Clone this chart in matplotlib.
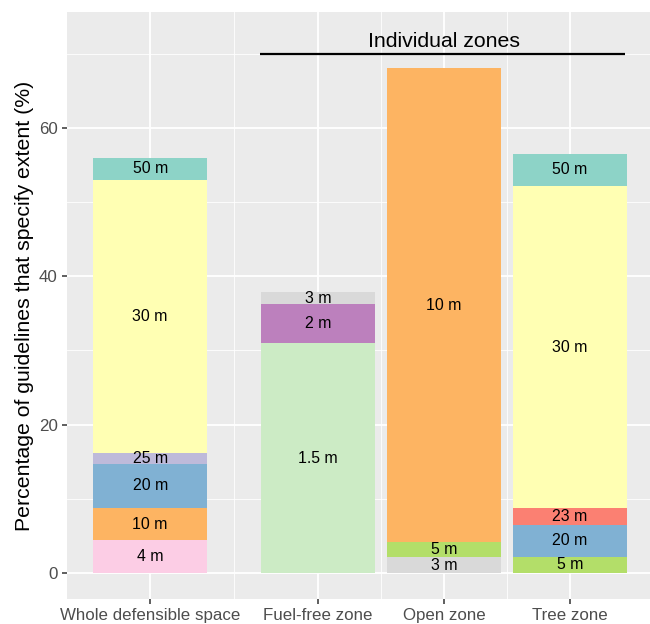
import matplotlib
matplotlib.use("Agg")
import matplotlib.pyplot as plt
from matplotlib.ticker import FixedLocator

plt.rcParams['font.family'] = ['Liberation Sans', 'DejaVu Sans']

categories = ["Whole defensible space", "Fuel-free zone", "Open zone", "Tree zone"]

whole_labels = ["4 m", "10 m", "20 m", "25 m", "30 m", "50 m"]
whole_values = [4.4, 4.4, 5.9, 1.5, 36.8, 2.9]

fuel_labels = ["1.5 m", "2 m", "3 m"]
fuel_values = [31.0, 5.2, 1.7]

open_labels = ["3 m", "5 m", "10 m"]
open_values = [2.1, 2.1, 63.8]

tree_labels = ["5 m", "20 m", "23 m", "30 m", "50 m"]
tree_values = [2.2, 4.3, 2.2, 43.5, 4.3]

extent_colors = {
    "1.5 m": "#CCEBC5", "2 m": "#BC80BD", "3 m": "#D9D9D9", "4 m": "#FCCDE5",
    "5 m": "#B3DE69", "10 m": "#FDB462", "20 m": "#80B1D3", "23 m": "#FB8072",
    "25 m": "#BEBADA", "30 m": "#FFFFB3", "50 m": "#8DD3C7",
}

stacks = [(whole_labels, whole_values), (fuel_labels, fuel_values),
          (open_labels, open_values), (tree_labels, tree_values)]

# category positions (gap after first category)
positions = [1.0, 1.0 + 4/3, 2.0 + 4/3, 3.0 + 4/3]
bar_width = 0.9

W, H = 650, 624
fig = plt.figure(figsize=(W/100, H/100), dpi=100)
ax = fig.add_axes([67/W, 1 - 599/H, (652.7 - 67)/W, (599 - 12)/H])
ax.set_facecolor("#EBEBEB")
for s in ax.spines.values():
    s.set_visible(False)

for xpos, (labs, vals) in zip(positions, stacks):
    bottom = 0.0
    for lab, v in zip(labs, vals):
        ax.bar(xpos, v, bottom=bottom, width=bar_width, color=extent_colors[lab],
               edgecolor="none", zorder=3)
        ax.text(xpos, bottom + v/2, lab, ha="center", va="center",
                fontsize=11.4, color="black", zorder=4)
        bottom += v

ax.set_xlim(0.34, 4.99)
ax.set_ylim(-3.5, 75.6)

ax.set_xticks(positions)
ax.set_xticklabels(categories)
ax.xaxis.set_minor_locator(FixedLocator([(positions[i] + positions[i+1])/2 for i in range(3)]))
ax.set_yticks([0, 20, 40, 60])
ax.yaxis.set_minor_locator(FixedLocator([10, 30, 50, 70]))

ax.grid(which="major", color="white", linewidth=1.3, zorder=0)
ax.grid(which="minor", color="white", linewidth=0.6, zorder=0)
ax.set_axisbelow(True)

ax.tick_params(axis="both", which="major", length=3.8, width=1.1, color="#333333",
               labelsize=12.2, labelcolor="#4D4D4D", pad=3)
ax.tick_params(axis="both", which="minor", length=0)

ax.set_ylabel("Percentage of guidelines that specify extent (%)", fontsize=15.3,
              color="black", labelpad=3.5)

# annotation for individual zones
ax.plot([1.87, 4.77], [70.0, 70.0], color="black", linewidth=1.6, zorder=5,
        solid_capstyle="butt")
ax.text(positions[2], 70.9, "Individual zones", ha="center", va="baseline",
        fontsize=15.3, color="black", zorder=5)

fig.savefig("out.png", dpi=100)
